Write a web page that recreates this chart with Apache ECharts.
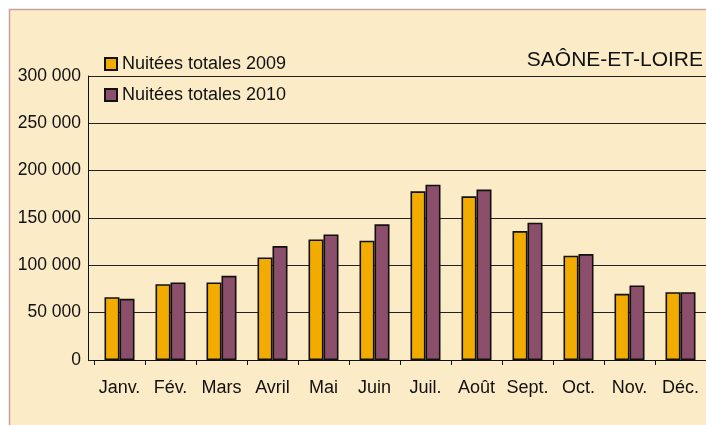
<!DOCTYPE html>
<html>
<head>
<meta charset="utf-8">
<script src="https://cdn.jsdelivr.net/npm/echarts@6/dist/echarts.min.js"></script>
<style>
  html, body { margin: 0; padding: 0; background: #fff; }
  #chart { width: 706px; height: 425px; }
</style>
</head>
<body>
<div id="chart"></div>
<script>
  // données
  var months = ['Janv.', 'Fév.', 'Mars', 'Avril', 'Mai', 'Juin', 'Juil.', 'Août', 'Sept.', 'Oct.', 'Nov.', 'Déc.']
  var nuits2009 = [66300, 80100, 81900, 108300, 127400, 126000, 178200, 172900, 136200, 110100, 69900, 71600]
  var nuits2010 = [64600, 81900, 88900, 120300, 132700, 143300, 185200, 180000, 145000, 111900, 78700, 71600]
  var yTicks = [0, 50000, 100000, 150000, 200000, 250000, 300000]

  var chart = echarts.init(document.getElementById('chart'))

  function fmt (v) {
    return String(v).replace(/\B(?=(\d{3})+(?!\d))/g, ' ')
  }

  var font = 'Liberation Sans, Arial, sans-serif'
  var yMin = yTicks[0]
  var yMax = yTicks[yTicks.length - 1]
  var yStep = yTicks[1] - yTicks[0]

  chart.setOption({
    animation: false,
    textStyle: { fontFamily: font },
    graphic: [{
      type: 'rect',
      z: -10,
      shape: { x: 9.5, y: 9.5, width: 720, height: 430 },
      style: { fill: '#FBEBC6', stroke: '#C9A19E', lineWidth: 1.5 }
    }],
    title: {
      text: 'SAÔNE-ET-LOIRE',
      right: -2,
      top: 45,
      textStyle: { fontSize: 21, fontWeight: 'normal', color: '#111', fontFamily: font }
    },
    legend: {
      orient: 'vertical',
      left: 99,
      top: 50,
      itemWidth: 12,
      itemHeight: 12,
      itemGap: 13,
      icon: 'rect',
      textStyle: { fontSize: 18, color: '#111', fontFamily: font },
      data: ['Nuitées totales 2009', 'Nuitées totales 2010']
    },
    // grille 0 : axe des valeurs et lignes ; grille 1 : les barres
    grid: [
      { left: 88, right: 0, top: 76, bottom: 65 },
      { left: 94, right: 0, top: 76, bottom: 65 }
    ],
    xAxis: [
      { type: 'value', gridIndex: 0, show: false },
      {
        type: 'category',
        gridIndex: 1,
        data: months,
        axisLine: { lineStyle: { color: '#111', width: 1 } },
        axisTick: { show: true, interval: 0, length: 5, lineStyle: { color: '#111' } },
        axisLabel: { interval: 0, fontSize: 18, color: '#111', margin: 19, fontFamily: font }
      }
    ],
    yAxis: [
      {
        type: 'value',
        gridIndex: 0,
        min: yMin,
        max: yMax,
        interval: yStep,
        axisLine: { show: true, lineStyle: { color: '#111', width: 1 } },
        axisTick: { show: false },
        axisLabel: { fontSize: 17.5, color: '#111', margin: 7, fontFamily: font, formatter: fmt },
        splitLine: { lineStyle: { color: '#222', width: 1 } }
      },
      {
        type: 'value',
        gridIndex: 1,
        min: yMin,
        max: yMax,
        interval: yStep,
        show: false,
        splitLine: { show: false }
      }
    ],
    series: [
      {
        name: 'Nuitées totales 2009',
        type: 'bar',
        xAxisIndex: 1,
        yAxisIndex: 1,
        data: nuits2009,
        barWidth: 15,
        barGap: '0%',
        itemStyle: { color: '#F2AC00', borderColor: '#111', borderWidth: 1.6 }
      },
      {
        name: 'Nuitées totales 2010',
        type: 'bar',
        xAxisIndex: 1,
        yAxisIndex: 1,
        data: nuits2010,
        barWidth: 15,
        barGap: '0%',
        itemStyle: { color: '#8B4F6B', borderColor: '#111', borderWidth: 1.6 }
      }
    ]
  })
</script>
</body>
</html>
